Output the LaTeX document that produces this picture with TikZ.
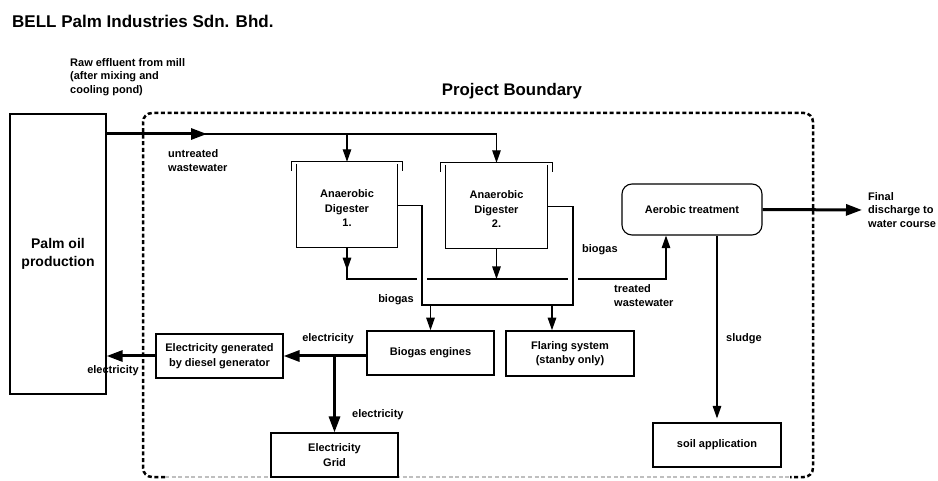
\documentclass[tikz,border=0pt]{standalone}
\usepackage{fontspec}
\setmainfont{Liberation Sans}
\usetikzlibrary{arrows.meta,calc}
\begin{document}
\begin{tikzpicture}[x=1pt,y=-1pt,
  lbl/.style={font=\fontsize{11}{13.6}\selectfont\bfseries, align=left, inner sep=0pt},
  boxtext/.style={font=\fontsize{11}{14.5}\selectfont\bfseries, align=center, inner sep=0pt},
  flowbox/.style={draw, line width=1.1pt, boxtext},
  strongbox/.style={flowbox, line width=1.6pt},
  ln/.style={line width=1.2pt},
  arr/.style={ln, -{Triangle[length=12.5pt,width=8.5pt]}},
  thickln/.style={line width=3pt},
  thickarr/.style={thickln, -{Triangle[length=16pt,width=11pt]}},
  bnd/.style={line width=2.5pt, dash pattern=on 4pt off 2.6pt},
]
\useasboundingbox (0,0) rectangle (938,481);

% titles
\node[anchor=west, inner sep=0pt, font=\fontsize{17}{20}\selectfont\bfseries] (title) at (12,21) {BELL Palm Industries Sdn. Bhd.};
\node[inner sep=0pt, font=\fontsize{16.8}{20}\selectfont\bfseries] (proj) at (512,91) {Project Boundary};
\node[lbl, anchor=west] (raw) at (70,77) {Raw effluent from mill\\(after mixing and\\cooling pond)};

% project boundary
\draw[bnd, rounded corners=9pt] (165,477) -- (143,477) -- (143,113) -- (813,113) -- (813,477) -- (790,477);
\draw[bnd, black!25, line width=2pt] (165,477) -- (790,477);

% boxes
\node[flowbox, line width=1.3pt, minimum width=96pt, minimum height=280pt, font=\fontsize{14}{18}\selectfont\bfseries] (palm) at (58,254) {Palm oil\\production};

\node[minimum width=100pt, minimum height=83pt, inner sep=0pt] (d1) at (347,205.5) {};
\node[minimum width=101pt, minimum height=83pt, inner sep=0pt] (d2) at (496.5,206.5) {};
\node[boxtext] (d1t) at ($(d1.center)+(0,3)$) {Anaerobic\\Digester\\1.};
\node[boxtext] (d2t) at ($(d2.center)+(0,3)$) {Anaerobic\\Digester\\2.};
\foreach \d in {d1,d2}{
  \draw[ln] (\d.north west) -- (\d.south west) -- (\d.south east) -- (\d.north east);
  \draw[ln] ($(\d.north west)+(-5,7)$) -- ($(\d.north west)+(-5,-2)$) -- ($(\d.north east)+(5,-2)$) -- ($(\d.north east)+(5,7)$);
}

\node[flowbox, rounded corners=10pt, minimum width=140pt, minimum height=51pt] (aer) at (692,209.5) {Aerobic treatment};
\node[lbl, anchor=west] (fin) at (868,210) {Final\\discharge to\\water course};

\node[strongbox, minimum width=127pt, minimum height=44pt] (engines) at (430.5,353) {Biogas engines};
\node[strongbox, minimum width=128pt, minimum height=45pt] (flare) at (570,353.5) {Flaring system\\(stanby only)};
\node[flowbox, minimum width=127pt, minimum height=44pt] (diesel) at (219.5,356) {Electricity generated\\by diesel generator};
\node[flowbox, minimum width=127pt, minimum height=44pt] (grid) at (334.5,455) {Electricity\\Grid};
\node[flowbox, minimum width=128pt, minimum height=44pt] (soil) at (717,445) {soil application};

% labels
\node[lbl, anchor=west] (uw) at (168,160.5) {untreated\\wastewater};
\node[lbl] (bgl) at (396,300) {biogas};
\node[lbl, anchor=west] (bgr) at (582,250) {biogas};
\node[lbl, anchor=west] (twl) at (614,295.5) {treated\\wastewater};
\node[lbl, anchor=west] (sl) at (726,339) {sludge};
\node[lbl] (e1) at (328,339) {electricity};
\node[lbl, anchor=west] (e2) at (352,415) {electricity};
\node[lbl] (e3) at (113,371) {electricity};

% helper coordinates
\coordinate (top) at (0,134);
\coordinate (c1) at (422,305);
\coordinate (c2) at (573,305);
\coordinate (tw) at (666,279);
\coordinate (x1) at (c1|-tw);
\coordinate (x2) at (c2|-tw);
\coordinate (fl) at ($(flare.north)+(-18,0)$);

% inflow
\draw[ln] (palm.east |- top) -- (d2.north |- top);
\draw[arr] (d1.north |- top) -- ($(d1.north)+(0,-2)$);
\draw[arr] (d2.north |- top) -- ($(d2.north)+(0,-2)$);
\draw[thickarr] (palm.east |- top) -- (207,134);

% biogas collection
\draw[ln] (d1.east) -- (d1.east -| c1) -- (c1) -- (c2) -- (d2.east -| c2) -- (d2.east);
\draw[arr] (engines.north |- c1) -- (engines.north);
\draw[arr] (fl |- c1) -- (fl);

% treated wastewater
\draw[ln] (d1.south) -- (d1.south |- tw) -- ($(x1)+(-5,0)$);
\draw[ln] ($(x1)+(5,0)$) -- ($(x2)+(-5,0)$);
\draw[arr] ($(x2)+(5,0)$) -- (tw) -- (tw |- aer.south);
\draw[arr] (d1.south) -- ++(0,23);
\draw[arr] (d2.south) -- (d2.south |- tw);

% outflows
\draw[thickarr, shorten >=6pt] (aer.east) -- (fin.west);
\draw[arr, shorten >=4pt] (soil.north |- aer.south) -- (soil.north);

% electricity
\draw[thickarr] (engines.west |- diesel.east) -- (diesel.east);
\draw[thickarr] (grid.north |- diesel.east) -- (grid.north);
\draw[thickarr] (diesel.west) -- (palm.east |- diesel.west);
\end{tikzpicture}
\end{document}
